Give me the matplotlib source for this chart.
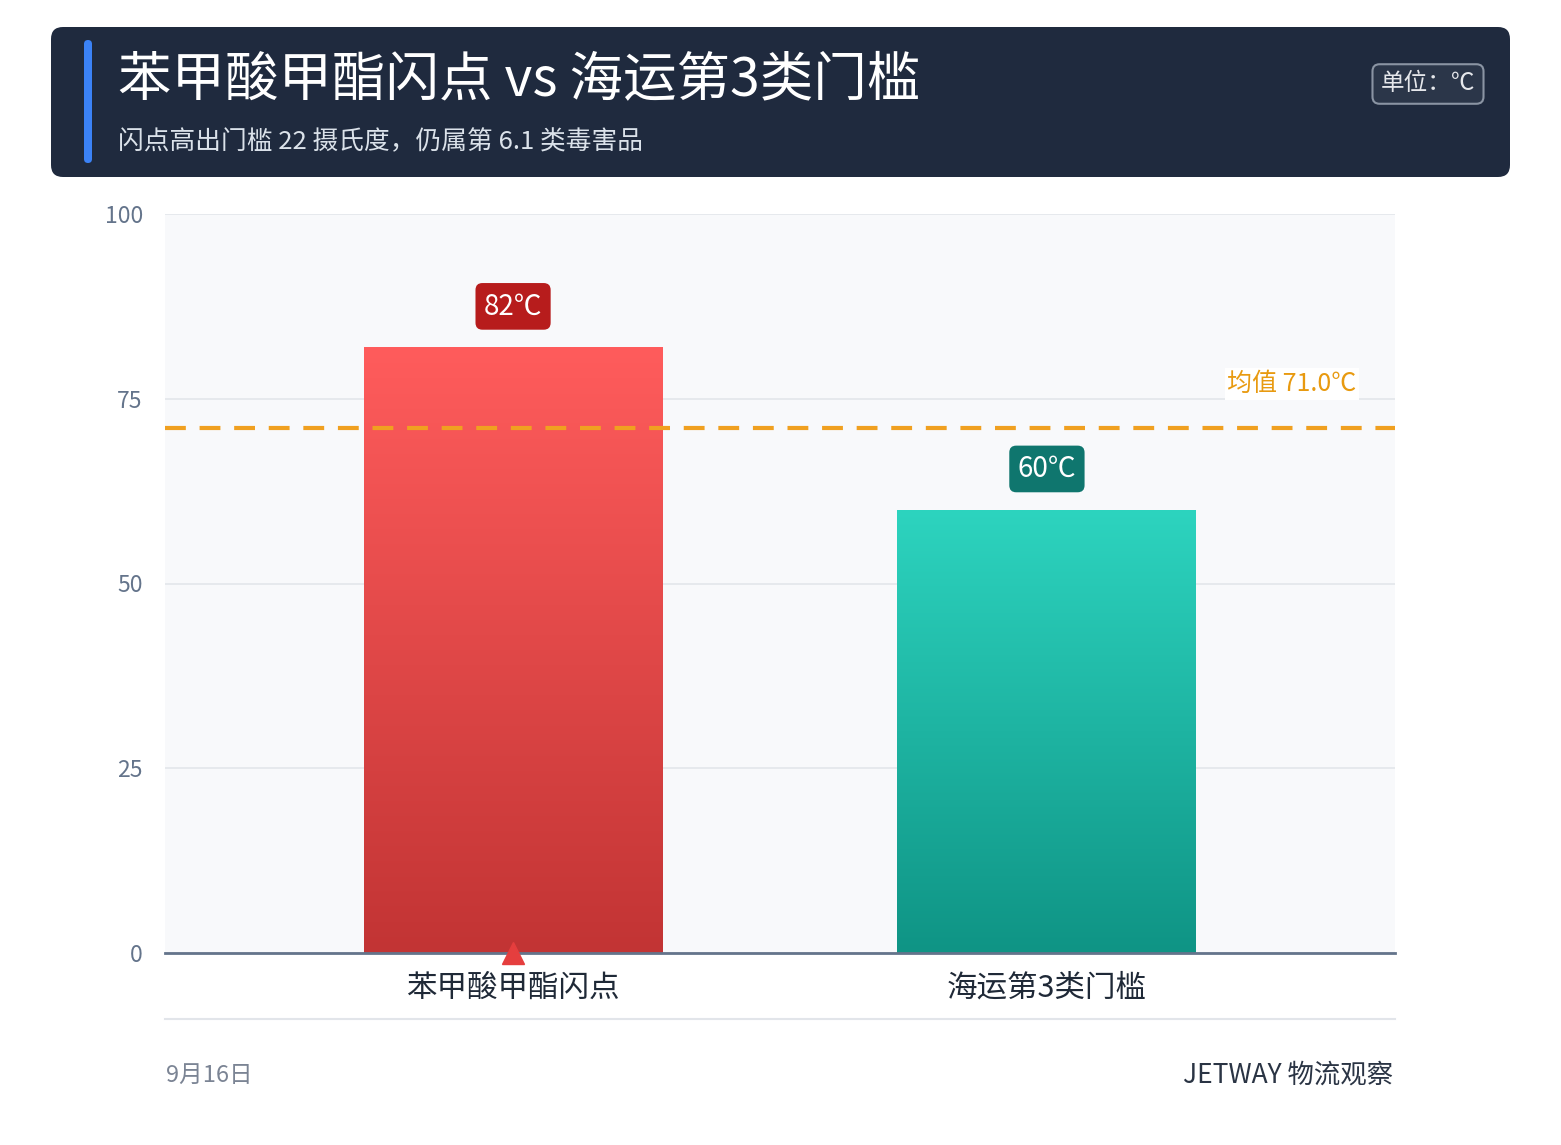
import matplotlib
matplotlib.use("Agg")
import matplotlib.pyplot as plt
import numpy as np
from matplotlib.patches import FancyBboxPatch, Rectangle
from matplotlib.colors import LinearSegmentedColormap

plt.rcParams['font.family'] = ['Noto Sans CJK SC', 'DejaVu Sans']

categories = ["苯甲酸甲酯闪点", "海运第3类门槛"]
values = [82, 60]
labels = ["82℃", "60℃"]
mean_val = 71.0
yticks = [0, 25, 50, 75, 100]
title = "苯甲酸甲酯闪点 vs 海运第3类门槛"
subtitle = "闪点高出门槛 22 摄氏度，仍属第 6.1 类毒害品"

W, H = 1561, 1145
fig = plt.figure(figsize=(W/100, H/100), dpi=100)
fig.patch.set_facecolor("white")

# header
hdr = fig.add_axes([0, 0, 1, 1], zorder=0)
hdr.set_xlim(0, W); hdr.set_ylim(H, 0); hdr.axis("off")
hdr.add_patch(FancyBboxPatch((51, 27), 1459, 150, boxstyle="round,pad=0,rounding_size=12",
                             fc="#1f2a3e", ec="none"))
hdr.add_patch(FancyBboxPatch((84, 40), 8, 123, boxstyle="round,pad=0,rounding_size=4",
                             fc="#3b82f6", ec="none"))
hdr.text(118, 80, title, color="white", fontsize=38.5, va="center", ha="left")
hdr.text(118, 142, subtitle, color="#dbe2ea", fontsize=18.5, va="center", ha="left")
hdr.text(1428, 84, "单位：℃", color="#e5e7eb", fontsize=17, va="center", ha="center",
         bbox=dict(boxstyle="round,pad=0.35,rounding_size=0.3", fc="#2b3649", ec="#8a94a3", lw=1.5))
hdr.plot([165, 1395], [1019, 1019], color="#e2e5ea", lw=1.5)
hdr.text(166, 1075, "9月16日", color="#7b8494", fontsize=17, va="center", ha="left")
hdr.text(1393, 1075, "JETWAY 物流观察", color="#2a3444", fontsize=19, va="center", ha="right")

ax = fig.add_axes([165/W, 1-953/H, (1395-165)/W, (953-214)/H], zorder=1)
ax.set_facecolor("#f8f9fb")
ax.set_xlim(-0.652, 1.652)
ax.set_ylim(0, 100)
ax.set_yticks(yticks)
ax.tick_params(axis="y", length=0, labelsize=16.5, labelcolor="#64748b", pad=16)
ax.tick_params(axis="x", length=0, labelsize=22, labelcolor="#1f2937", pad=14)
ax.grid(axis="y", color="#e3e6eb", lw=1.2)
ax.set_axisbelow(True)
for s in ["top", "right", "left"]:
    ax.spines[s].set_visible(False)
ax.spines["bottom"].set_color("#64748b"); ax.spines["bottom"].set_linewidth(2)
ax.set_xticks(range(len(categories)))
ax.set_xticklabels(categories)

cmaps = [LinearSegmentedColormap.from_list("r", ["#c23434", "#ff5c5c"]),
         LinearSegmentedColormap.from_list("t", ["#0f9485", "#2dd4bf"])]
lblc = ["#b71c1c", "#0f766e"]
bw = 0.56
bars = ax.bar(range(len(values)), values, width=bw, color="none", zorder=2)
grad = np.linspace(0, 1, 256).reshape(-1, 1)
for i, (b, v) in enumerate(zip(bars, values)):
    x0 = b.get_x()
    im = ax.imshow(grad, extent=[x0, x0 + bw, 0, v], origin="lower", aspect="auto",
                   cmap=cmaps[i], zorder=2)
    im.set_clip_path(b)
    ax.text(i, v + 5.5, labels[i], ha="center", va="center", color="white", fontsize=20, zorder=5,
            bbox=dict(boxstyle="round,pad=0.3,rounding_size=0.25", fc=lblc[i], ec="none"))

ax.axhline(mean_val, color="#f0a020", lw=3, ls=(0, (5, 3.3)), zorder=3)
ax.text(1.58, mean_val + 6, f"均值 {mean_val:.1f}℃", color="#e89a10", fontsize=18, ha="right",
        va="center", zorder=4, bbox=dict(fc="white", ec="none", pad=2))
ax.plot([0], [0], marker="^", color="#e53e3e", markersize=16, clip_on=False, zorder=6)
ax.set_xlim(-0.652, 1.652)

fig.savefig("out.png", dpi=100)
